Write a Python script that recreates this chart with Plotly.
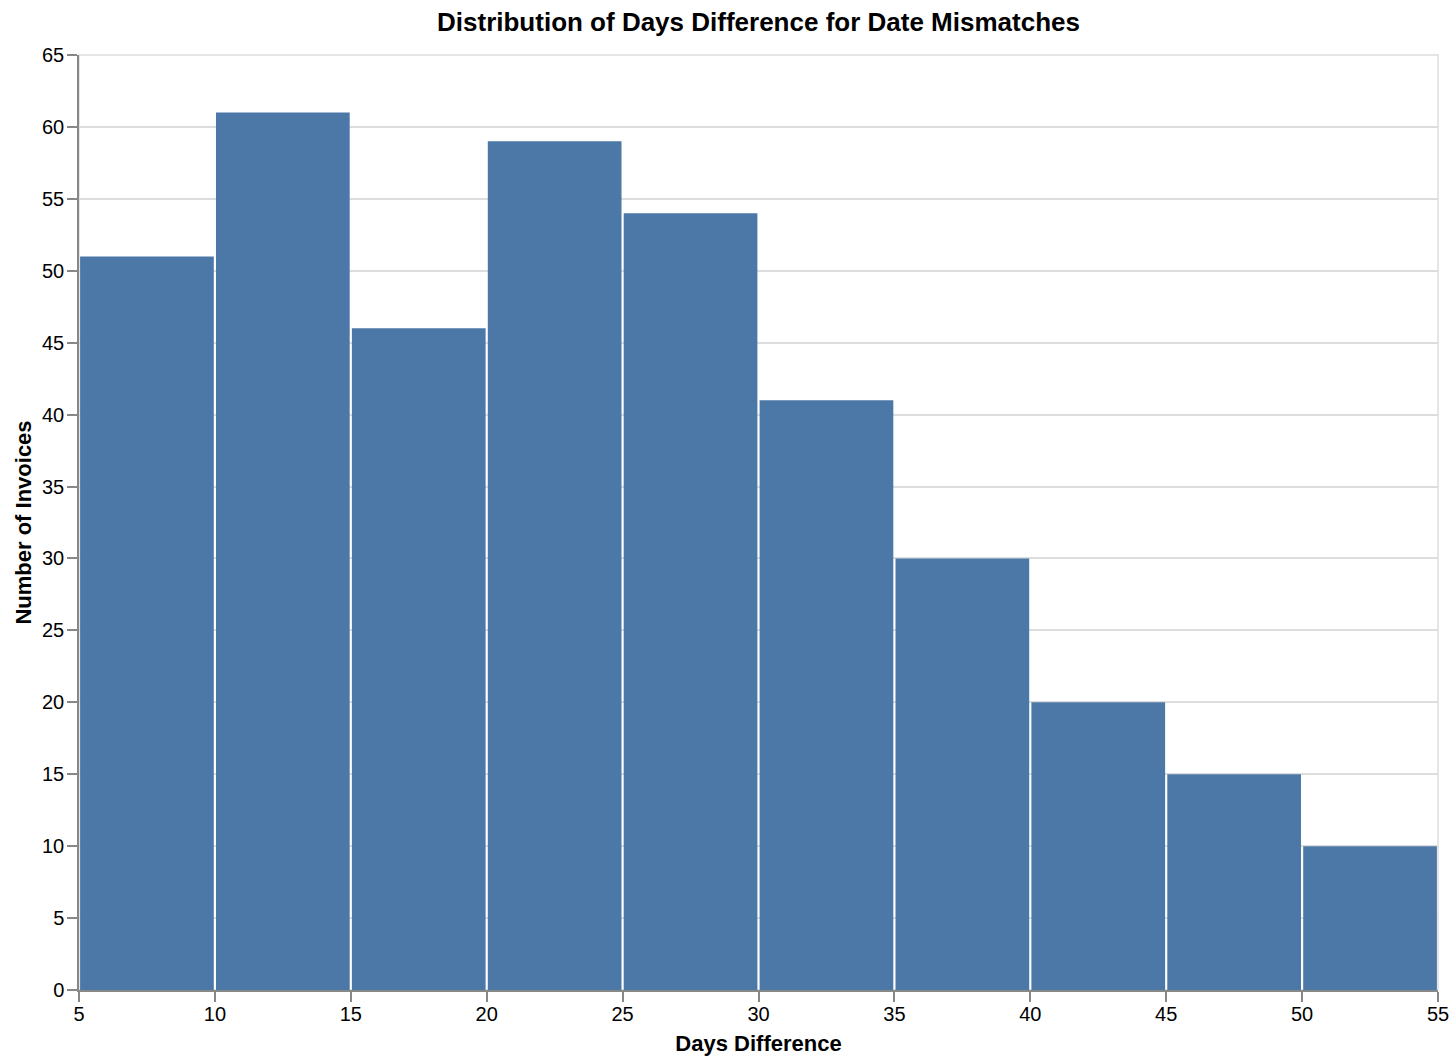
import plotly.graph_objects as go

bin_starts = [5, 10, 15, 20, 25, 30, 35, 40, 45, 50]
bin_width = 5
counts = [51, 61, 46, 59, 54, 41, 30, 20, 15, 10]
x_ticks = [5, 10, 15, 20, 25, 30, 35, 40, 45, 50, 55]
y_ticks = [0, 5, 10, 15, 20, 25, 30, 35, 40, 45, 50, 55, 60, 65]

FONT = "Liberation Sans, Arial, Helvetica, sans-serif"

centers = [s + bin_width / 2 for s in bin_starts]

fig = go.Figure()
fig.add_trace(go.Bar(
    x=centers,
    y=counts,
    width=bin_width * 0.984,
    marker=dict(color="#4c78a8", line=dict(width=0)),
    hovertemplate="Days Difference: %{x}<br>Number of Invoices: %{y}<extra></extra>",
))

W, H = 1450, 1064
L, R, T, B = 79, 12, 55, 74

fig.update_layout(
    width=W,
    height=H,
    margin=dict(l=L, r=R, t=T, b=B, autoexpand=False),
    paper_bgcolor="white",
    plot_bgcolor="white",
    showlegend=False,
    title=dict(
        text="<b>Distribution of Days Difference for Date Mismatches</b>",
        x=(L + (W - R - L) / 2) / W,
        xanchor="center",
        y=1 - 22 / H,
        yanchor="middle",
        font=dict(family=FONT, size=26, color="black"),
    ),
    font=dict(family=FONT, size=20, color="black"),
    shapes=[dict(
        type="rect", xref="paper", yref="paper", x0=0, x1=1, y0=0, y1=1,
        line=dict(color="#dddddd", width=1.5), layer="below",
    )],
)

fig.update_xaxes(
    range=[5, 55],
    tickvals=x_ticks,
    ticktext=[str(v) for v in x_ticks],
    showgrid=False,
    zeroline=False,
    showline=True,
    linecolor="#888888",
    linewidth=1.5,
    ticks="outside",
    ticklen=10,
    tickwidth=1.5,
    tickcolor="#888888",
    ticklabelstandoff=-5,
    automargin=False,
    tickfont=dict(family=FONT, size=20, color="black"),
    title=dict(text="<b>Days Difference</b>", font=dict(family=FONT, size=22, color="black"), standoff=12),
)
fig.update_yaxes(
    range=[0, 65],
    tickvals=y_ticks,
    ticktext=[str(v) for v in y_ticks],
    showgrid=True,
    gridcolor="#dddddd",
    gridwidth=1.5,
    zeroline=False,
    showline=True,
    linecolor="#888888",
    linewidth=1.5,
    ticks="outside",
    ticklen=10,
    tickwidth=1.5,
    tickcolor="#888888",
    ticklabelstandoff=-1,
    automargin=False,
    tickfont=dict(family=FONT, size=20, color="black"),
    title=dict(text="<b>Number of Invoices</b>", font=dict(family=FONT, size=22, color="black"), standoff=4),
)

fig.write_html(
    "out.html",
    config={"displayModeBar": False},
    post_script="document.body.style.margin='0';document.body.style.overflow='hidden';",
)
